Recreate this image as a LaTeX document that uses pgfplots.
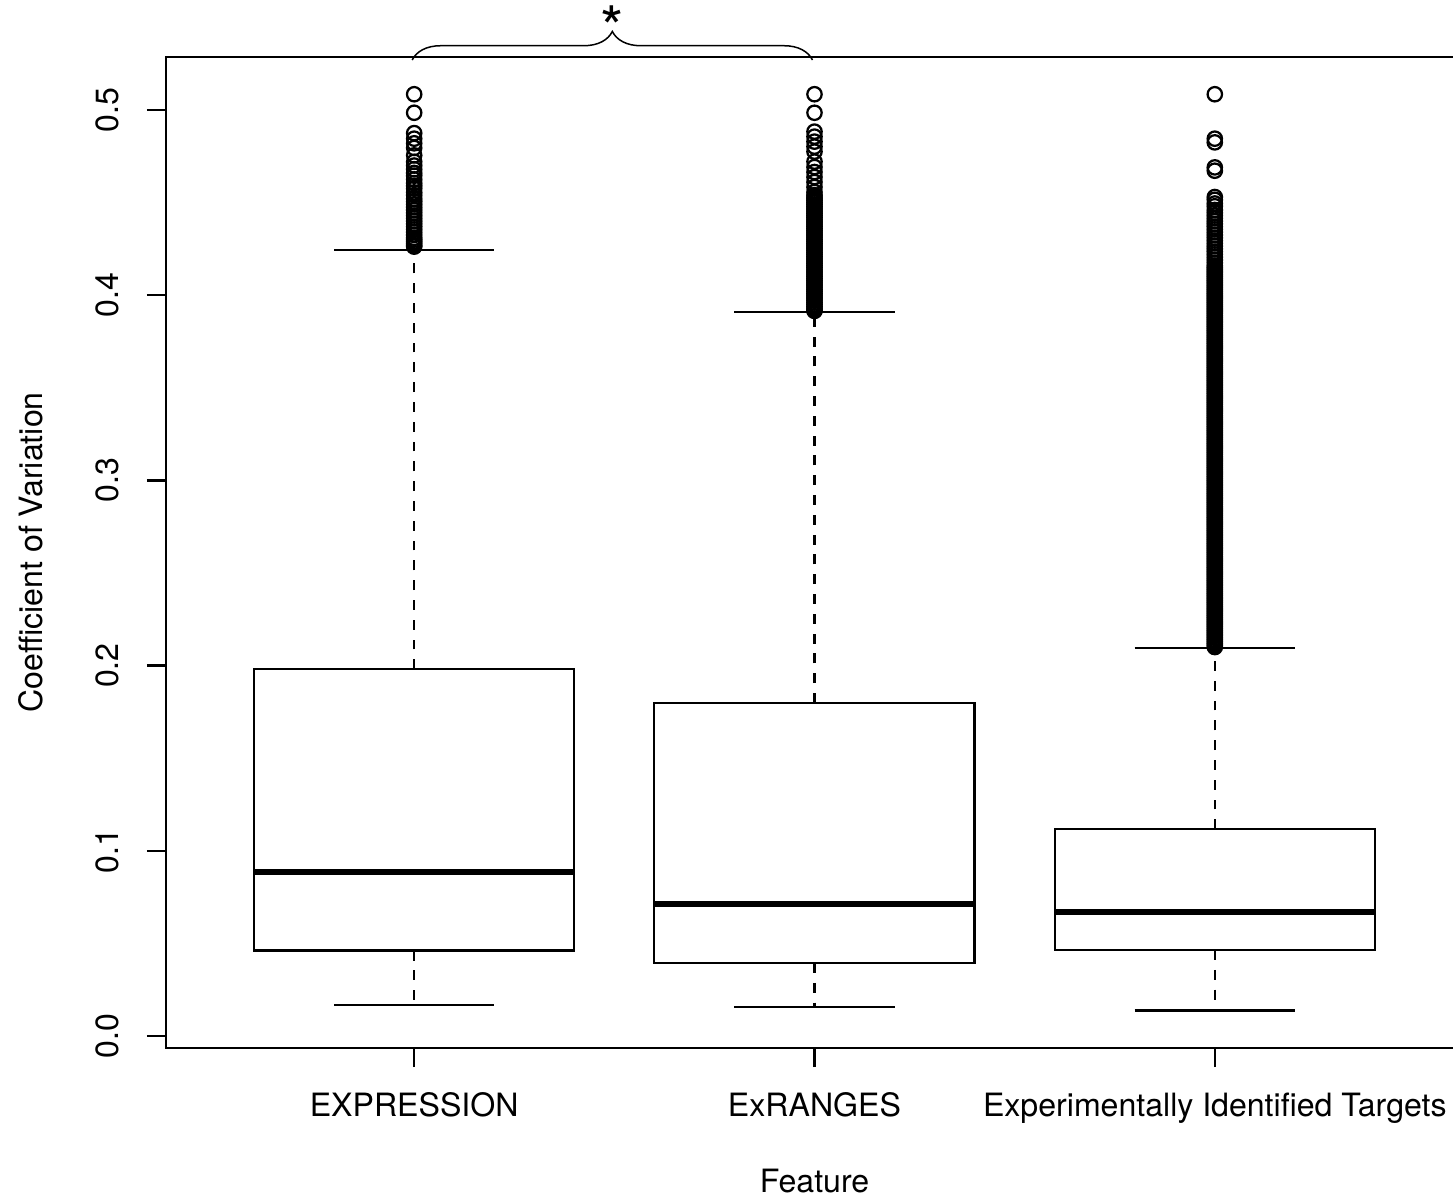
\documentclass[border=0pt]{standalone}
\usepackage{fontspec}
\setmainfont{TeX Gyre Heros}
\usepackage{pgfplots}
\pgfplotsset{compat=1.18}
\usetikzlibrary{decorations.pathreplacing}

\pgfplotsset{
  boxline/.style={black, line width=0.75pt, solid, mark=none, line join=miter},
  medline/.style={black, line width=2pt, mark=none},
  stem/.style={black, line width=0.75pt, mark=none, dash pattern=on 3.3pt off 3.3pt},
  outl/.style={black, only marks, mark=o, mark size=2.4pt,
    mark options={line width=0.75pt, solid}},
}

\begin{document}
\begin{tikzpicture}[font=\fontsize{10.7}{12.8}\selectfont]
\begin{axis}[
  scale only axis,
  width=432.33pt, height=330.33pt,
  xmin=0.38, xmax=3.62,
  ymin=-0.0065, ymax=0.5286,
  clip=false,
  axis line style={line width=0.75pt},
  xtick={1,2,3},
  xticklabels={EXPRESSION, ExRANGES, Experimentally Identified Targets},
  ytick={0,0.1,0.2,0.3,0.4,0.5},
  yticklabels={0.0,0.1,0.2,0.3,0.4,0.5},
  tick align=outside,
  xtick pos=bottom, ytick pos=left,
  major tick length=6.4pt,
  tick style={black, line width=0.75pt},
  xticklabel style={anchor=base, inner sep=0pt},
  yticklabel style={rotate=90, anchor=south, inner sep=0pt},
  xticklabel shift=16.27pt,
  yticklabel shift=8.93pt,
  xlabel={Feature},
  ylabel={Coefficient of Variation},
  every axis x label/.style={at={([yshift=-48.3pt]rel axis cs:0.5,0)}, anchor=base, inner sep=0pt},
  every axis y label/.style={at={([xshift=-41pt]rel axis cs:0,0.5)}, rotate=90, anchor=base, inner sep=0pt},
]

% ---------- EXPRESSION: whiskers 0.0167 / 0.4244, quartiles 0.0461 / 0.1980, median 0.0884
\addplot[stem] coordinates {(1,0.1980) (1,0.4244)};
\addplot[stem] coordinates {(1,0.0461) (1,0.0167)};
\addplot[boxline] coordinates {(0.8,0.4244) (1.2,0.4244)};
\addplot[boxline] coordinates {(0.8,0.0167) (1.2,0.0167)};
\addplot[boxline] coordinates {(0.6,0.0461) (1.4,0.0461) (1.4,0.1980) (0.6,0.1980) (0.6,0.0461) (1.4,0.0461)};
\addplot[medline] coordinates {(0.6,0.0884) (1.4,0.0884)};
\addplot[outl] coordinates {
 (1,0.5085) (1,0.4985) (1,0.4875) (1,0.4845) (1,0.4820) (1,0.4795)
 (1,0.4755) (1,0.4720) (1,0.4700) (1,0.4680) (1,0.4660) (1,0.4645)
 (1,0.4625) (1,0.4605) (1,0.4590) (1,0.4575) (1,0.4555) (1,0.4540)
 (1,0.4520) (1,0.4505) (1,0.4490) (1,0.4475) (1,0.4460) (1,0.4445)
 (1,0.4430) (1,0.4415) (1,0.4400) (1,0.4385) (1,0.4370) (1,0.4355)
 (1,0.4340) (1,0.4325) (1,0.4310) (1,0.4300) (1,0.4290) (1,0.4280)
 (1,0.4270) (1,0.4262)
};

% ---------- ExRANGES: whiskers 0.0157 / 0.3911, quartiles 0.0394 / 0.1798, median 0.0713
\addplot[stem] coordinates {(2,0.1798) (2,0.3911)};
\addplot[stem] coordinates {(2,0.0394) (2,0.0157)};
\addplot[boxline] coordinates {(1.8,0.3911) (2.2,0.3911)};
\addplot[boxline] coordinates {(1.8,0.0157) (2.2,0.0157)};
\addplot[boxline] coordinates {(1.6,0.0394) (2.4,0.0394) (2.4,0.1798) (1.6,0.1798) (1.6,0.0394) (2.4,0.0394)};
\addplot[medline] coordinates {(1.6,0.0713) (2.4,0.0713)};
\addplot[outl] coordinates {
 (2,0.5085) (2,0.4985) (2,0.4883) (2,0.4856) (2,0.4829) (2,0.4802)
 (2,0.4775) (2,0.4721) (2,0.4692) (2,0.4665) (2,0.4638) (2,0.4611)
 (2,0.4584) (2,0.4557) (2,0.4540)
 (2,0.453) (2,0.452) (2,0.451) (2,0.450) (2,0.449) (2,0.448) (2,0.447) (2,0.446) (2,0.445) (2,0.444)
 (2,0.443) (2,0.442) (2,0.441) (2,0.440) (2,0.439) (2,0.438) (2,0.437) (2,0.436) (2,0.435) (2,0.434)
 (2,0.433) (2,0.432) (2,0.431) (2,0.430) (2,0.429) (2,0.428) (2,0.427) (2,0.426) (2,0.425) (2,0.424)
 (2,0.423) (2,0.422) (2,0.421) (2,0.420) (2,0.419) (2,0.418) (2,0.417) (2,0.416) (2,0.415) (2,0.414)
 (2,0.413) (2,0.412) (2,0.411) (2,0.410) (2,0.409) (2,0.408) (2,0.407) (2,0.406) (2,0.405) (2,0.404)
 (2,0.403) (2,0.402) (2,0.401) (2,0.400) (2,0.399) (2,0.398) (2,0.397) (2,0.396) (2,0.395) (2,0.394)
 (2,0.393) (2,0.392) (2,0.3915)
};

% ---------- Experimentally Identified Targets: whiskers 0.0137 / 0.2095, quartiles 0.0464 / 0.1116, median 0.0671
\addplot[stem] coordinates {(3,0.1116) (3,0.2095)};
\addplot[stem] coordinates {(3,0.0464) (3,0.0137)};
\addplot[boxline] coordinates {(2.8,0.2095) (3.2,0.2095)};
\addplot[boxline] coordinates {(2.8,0.0137) (3.2,0.0137)};
\addplot[boxline] coordinates {(2.6,0.0464) (3.4,0.0464) (3.4,0.1116) (2.6,0.1116) (2.6,0.0464) (3.4,0.0464)};
\addplot[medline] coordinates {(2.6,0.0671) (3.4,0.0671)};
\addplot[outl] coordinates {
 (3,0.5085) (3,0.4845) (3,0.4825) (3,0.4690) (3,0.4672)
 (3,0.4530) (3,0.4515) (3,0.4495) (3,0.4480) (3,0.4460) (3,0.4445)
 (3,0.4430) (3,0.4415) (3,0.4400) (3,0.4385) (3,0.4370) (3,0.4355)
 (3,0.4340) (3,0.4325) (3,0.4310) (3,0.4295) (3,0.4280) (3,0.4265)
 (3,0.4250) (3,0.4235) (3,0.4220) (3,0.4205) (3,0.4190) (3,0.4175)
 (3,0.4160)
 (3,0.415) (3,0.414) (3,0.413) (3,0.412) (3,0.411) (3,0.410) (3,0.409) (3,0.408) (3,0.407) (3,0.406)
 (3,0.405) (3,0.404) (3,0.403) (3,0.402) (3,0.401) (3,0.400) (3,0.399) (3,0.398) (3,0.397) (3,0.396)
 (3,0.395) (3,0.394) (3,0.393) (3,0.392) (3,0.391) (3,0.390) (3,0.389) (3,0.388) (3,0.387) (3,0.386)
 (3,0.385) (3,0.384) (3,0.383) (3,0.382) (3,0.381) (3,0.380) (3,0.379) (3,0.378) (3,0.377) (3,0.376)
 (3,0.375) (3,0.374) (3,0.373) (3,0.372) (3,0.371) (3,0.370) (3,0.369) (3,0.368) (3,0.367) (3,0.366)
 (3,0.365) (3,0.364) (3,0.363) (3,0.362) (3,0.361) (3,0.360) (3,0.359) (3,0.358) (3,0.357) (3,0.356)
 (3,0.355) (3,0.354) (3,0.353) (3,0.352) (3,0.351) (3,0.350) (3,0.349) (3,0.348) (3,0.347) (3,0.346)
 (3,0.345) (3,0.344) (3,0.343) (3,0.342) (3,0.341) (3,0.340) (3,0.339) (3,0.338) (3,0.337) (3,0.336)
 (3,0.335) (3,0.334) (3,0.333) (3,0.332) (3,0.331) (3,0.330) (3,0.329) (3,0.328) (3,0.327) (3,0.326)
 (3,0.325) (3,0.324) (3,0.323) (3,0.322) (3,0.321) (3,0.320) (3,0.319) (3,0.318) (3,0.317) (3,0.316)
 (3,0.315) (3,0.314) (3,0.313) (3,0.312) (3,0.311) (3,0.310) (3,0.309) (3,0.308) (3,0.307) (3,0.306)
 (3,0.305) (3,0.304) (3,0.303) (3,0.302) (3,0.301) (3,0.300) (3,0.299) (3,0.298) (3,0.297) (3,0.296)
 (3,0.295) (3,0.294) (3,0.293) (3,0.292) (3,0.291) (3,0.290) (3,0.289) (3,0.288) (3,0.287) (3,0.286)
 (3,0.285) (3,0.284) (3,0.283) (3,0.282) (3,0.281) (3,0.280) (3,0.279) (3,0.278) (3,0.277) (3,0.276)
 (3,0.275) (3,0.274) (3,0.273) (3,0.272) (3,0.271) (3,0.270) (3,0.269) (3,0.268) (3,0.267) (3,0.266)
 (3,0.265) (3,0.264) (3,0.263) (3,0.262) (3,0.261) (3,0.260) (3,0.259) (3,0.258) (3,0.257) (3,0.256)
 (3,0.255) (3,0.254) (3,0.253) (3,0.252) (3,0.251) (3,0.250) (3,0.249) (3,0.248) (3,0.247) (3,0.246)
 (3,0.245) (3,0.244) (3,0.243) (3,0.242) (3,0.241) (3,0.240) (3,0.239) (3,0.238) (3,0.237) (3,0.236)
 (3,0.235) (3,0.234) (3,0.233) (3,0.232) (3,0.231) (3,0.230) (3,0.229) (3,0.228) (3,0.227) (3,0.226)
 (3,0.225) (3,0.224) (3,0.223) (3,0.222) (3,0.221) (3,0.220) (3,0.219) (3,0.218) (3,0.217) (3,0.216)
 (3,0.215) (3,0.214) (3,0.213) (3,0.212) (3,0.211) (3,0.210)
};

% significance bracket between the first two features
\draw[decorate, decoration={brace, amplitude=9.5pt}, line width=0.5pt]
  (axis cs:0.995,0.5270) -- (axis cs:1.995,0.5270);
\node[anchor=base, inner sep=0pt, font=\fontsize{20}{20}\selectfont]
  at ([yshift=2.4pt]axis cs:1.495,0.5286) {*};
\end{axis}
\pgfresetboundingbox
\path[use as bounding box] ([xshift=-55.33pt,yshift=-51.33pt]current axis.south west)
  rectangle ++(484.33pt,400.67pt);
\end{tikzpicture}
\end{document}
